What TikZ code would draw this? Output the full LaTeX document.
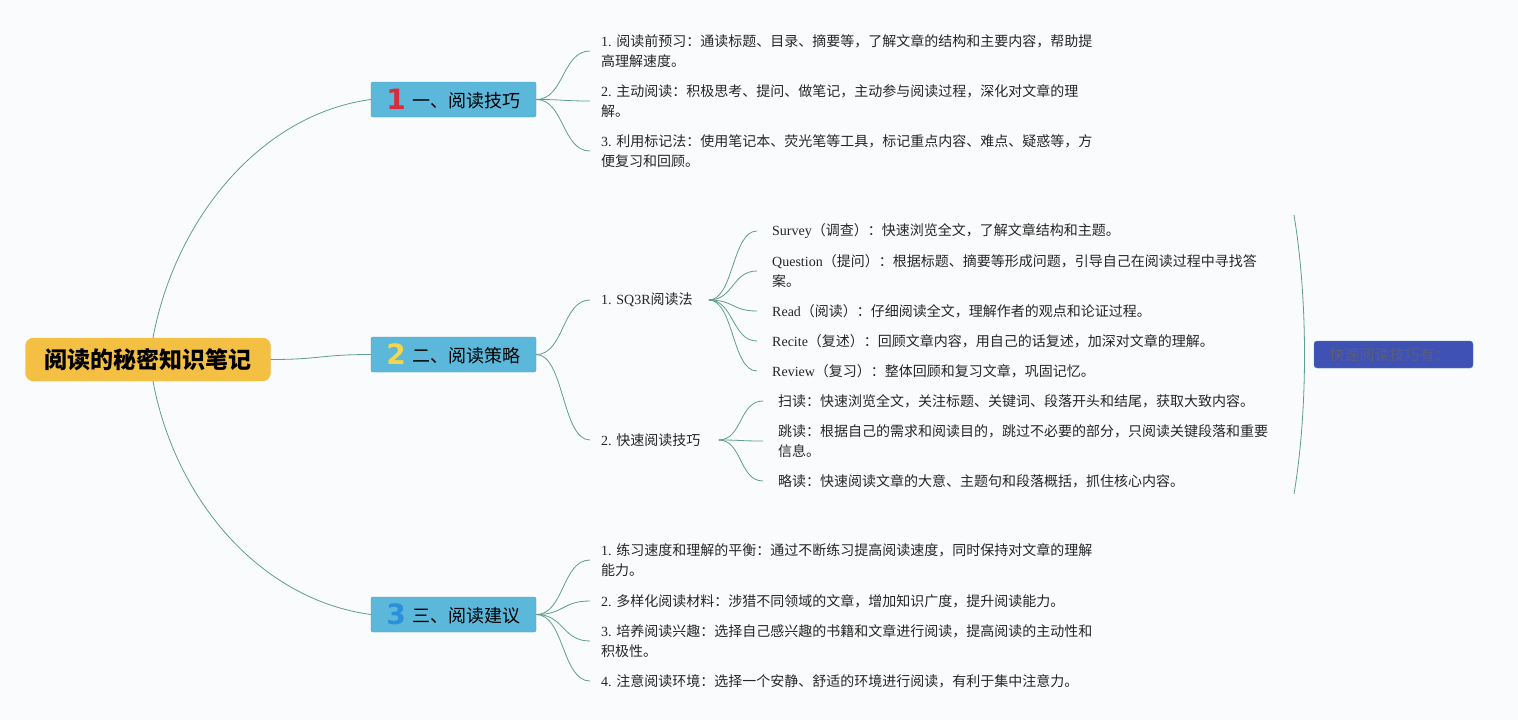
\documentclass[tikz,border=0pt]{standalone}
\usepackage{fontspec}
\setmainfont{Liberation Serif}
\newfontfamily\cjk{Noto Sans CJK SC}
\newfontfamily\numfont{DejaVu Sans}
\newcommand\zh[1]{{\cjk #1}}
\definecolor{bgc}{HTML}{FAFBFC}
\definecolor{rootfill}{HTML}{F4C043}
\definecolor{branchfill}{HTML}{5BB8DB}
\definecolor{branchdraw}{HTML}{4C9EBF}
\definecolor{linkc}{HTML}{5E9E8C}
\definecolor{textc}{HTML}{262626}
\definecolor{numa}{HTML}{D92B3A}
\definecolor{numb}{HTML}{F5D64A}
\definecolor{numc}{HTML}{2B8FD9}
\definecolor{sumfill}{HTML}{3F51B5}
\definecolor{sumdraw}{HTML}{4A8FA8}
\definecolor{sumtext}{HTML}{5A5E7C}
\newcommand\bnum[2]{\raisebox{-2pt}{\textcolor{#1}{\numfont\bfseries\fontsize{28}{28}\selectfont #2}}\hspace{7pt}}
\begin{document}
\begin{tikzpicture}[x=1pt,y=-1pt,
  rootbox/.style={draw=rootfill, fill=rootfill, rounded corners=8pt, minimum width=245pt, minimum height=43pt, inner sep=0pt, text=black, font=\cjk\bfseries\fontsize{23}{23}\selectfont},
  branchbox/.style={draw=branchdraw, fill=branchfill, rounded corners=2pt, minimum width=165pt, minimum height=35pt, inner sep=0pt, text=black, font=\cjk\fontsize{18}{18}\selectfont},
  leaf/.style={anchor=west, inner xsep=11pt, inner ysep=2pt, align=left, text=textc, font=\fontsize{14}{20}\selectfont},
  subleaf/.style={leaf, inner xsep=15pt},
  sumbox/.style={draw=sumdraw, fill=sumfill, rounded corners=3pt, minimum width=159pt, minimum height=27pt, inner sep=0pt, text=sumtext, font=\cjk\fontsize{15}{15}\selectfont},
  link/.style={draw=linkc, line width=0.8pt}]
\fill[bgc] (0,0) rectangle (1518,720);
\useasboundingbox (0,0) rectangle (1518,720);

% root and branches
\node[rootbox] (root) at (148,359.5) {阅读的秘密知识笔记};
\node[branchbox] (b1) at (453.5,99.5) {\bnum{numa}{1}一、阅读技巧};
\node[branchbox] (b2) at (453.5,354.5) {\bnum{numb}{2}二、阅读策略};
\node[branchbox] (b3) at (453.5,614.5) {\bnum{numc}{3}三、阅读建议};

% branch 1 leaves
\node[leaf] (t11) at (590,51) {1. \zh{阅读前预习：通读标题、目录、摘要等，了解文章的结构和主要内容，帮助提}\\\zh{高理解速度。}};
\node[leaf] (t12) at (590,101) {2. \zh{主动阅读：积极思考、提问、做笔记，主动参与阅读过程，深化对文章的理}\\\zh{解。}};
\node[leaf] (t13) at (590,151) {3. \zh{利用标记法：使用笔记本、荧光笔等工具，标记重点内容、难点、疑惑等，方}\\\zh{便复习和回顾。}};

% branch 2 leaves
\node[leaf] (s1) at (590,300) {1. SQ3R\zh{阅读法}};
\node[leaf] (s2) at (590,440) {2. \zh{快速阅读技巧}};

\node[subleaf] (q1) at (757,231) {Survey\zh{（调查）：快速浏览全文，了解文章结构和主题。}};
\node[subleaf] (q2) at (757,271) {Question\zh{（提问）：根据标题、摘要等形成问题，引导自己在阅读过程中寻找答}\\\zh{案。}};
\node[subleaf] (q3) at (757,311) {Read\zh{（阅读）：仔细阅读全文，理解作者的观点和论证过程。}};
\node[subleaf] (q4) at (757,341) {Recite\zh{（复述）：回顾文章内容，用自己的话复述，加深对文章的理解。}};
\node[subleaf] (q5) at (757,371) {Review\zh{（复习）：整体回顾和复习文章，巩固记忆。}};

\node[subleaf] (f1) at (763,401) {\zh{扫读：快速浏览全文，关注标题、关键词、段落开头和结尾，获取大致内容。}};
\node[subleaf] (f2) at (763,441) {\zh{跳读：根据自己的需求和阅读目的，跳过不必要的部分，只阅读关键段落和重要}\\\zh{信息。}};
\node[subleaf] (f3) at (763,481) {\zh{略读：快速阅读文章的大意、主题句和段落概括，抓住核心内容。}};

% branch 3 leaves
\node[leaf] (u1) at (590,560) {1. \zh{练习速度和理解的平衡：通过不断练习提高阅读速度，同时保持对文章的理解}\\\zh{能力。}};
\node[leaf] (u2) at (590,601) {2. \zh{多样化阅读材料：涉猎不同领域的文章，增加知识广度，提升阅读能力。}};
\node[leaf] (u3) at (590,641) {3. \zh{培养阅读兴趣：选择自己感兴趣的书籍和文章进行阅读，提高阅读的主动性和}\\\zh{积极性。}};
\node[leaf] (u4) at (590,681) {4. \zh{注意阅读环境：选择一个安静、舒适的环境进行阅读，有利于集中注意力。}};

% summary
\coordinate (br1) at (1294,215);
\coordinate (br2) at (1294,494);
\draw[link] (br1) .. controls (1308,300) and (1308,410) .. (br2);
\node[sumbox] (sum) at (1393.5,354.5) {\hspace{-8pt}快速阅读技巧有：};

% connectors root -> branches
\draw[link] ([xshift=5pt]root.north) .. controls +(22,-118) and +(-111,15) .. (b1.west);
\draw[link] (root.east) .. controls +(50,0) and +(-50,0) .. (b2.west);
\draw[link] ([xshift=5pt]root.south) .. controls +(22,118) and +(-111,-15) .. (b3.west);

% branch 1
\foreach \t in {t11,t12,t13}
  \draw[link] (b1.east) .. controls +(28,0) and +(-28,0) .. (\t.west);
% branch 2
\foreach \t in {s1,s2}
  \draw[link] (b2.east) .. controls +(28,0) and +(-28,0) .. (\t.west);
\foreach \t in {q1,q2,q3,q4,q5}
  \draw[link] ([xshift=5pt]s1.east) .. controls +(25,0) and +(-25,0) .. (\t.west);
\foreach \t in {f1,f2,f3}
  \draw[link] ([xshift=7pt]s2.east) .. controls +(24,0) and +(-24,0) .. (\t.west);
% branch 3
\foreach \t in {u1,u2,u3,u4}
  \draw[link] (b3.east) .. controls +(28,0) and +(-28,0) .. (\t.west);
\end{tikzpicture}
\end{document}
